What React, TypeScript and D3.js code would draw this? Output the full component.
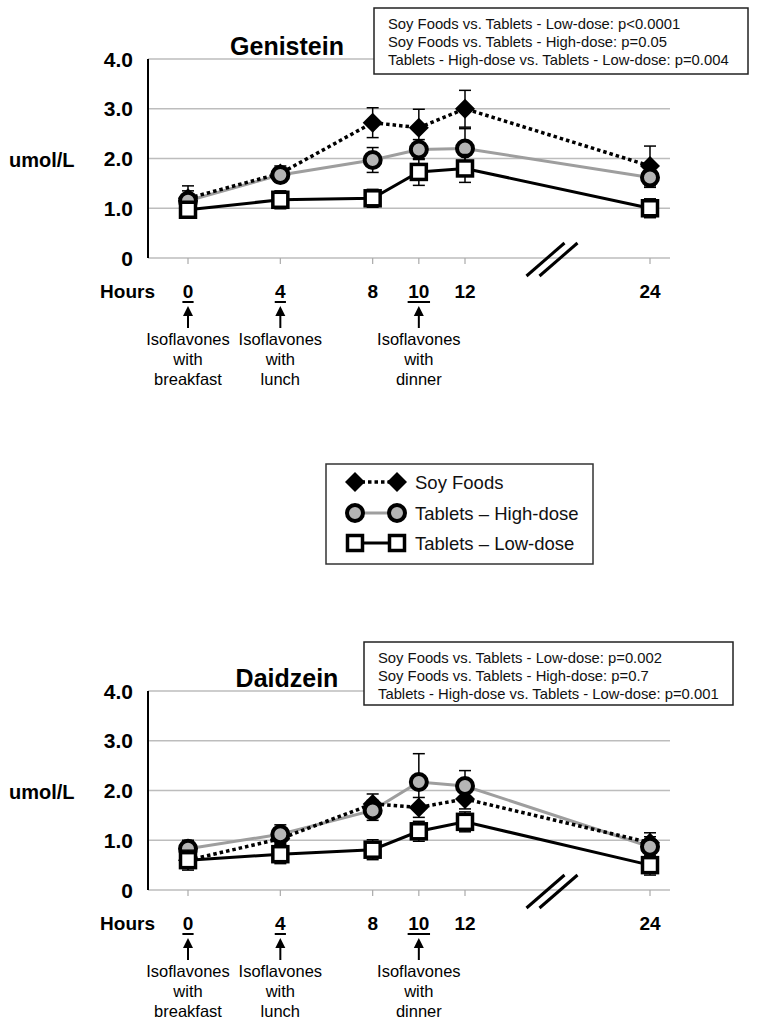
import React from 'react';
import * as d3 from 'd3';

// hours on the x axis
const hours = [0, 4, 8, 10, 12, 24];
const underlinedHours = [0, 4, 10];
const yTicks = [0, 1, 2, 3, 4];

const seriesNames = ['Soy Foods', 'Tablets – High-dose', 'Tablets – Low-dose'];

// Genistein (umol/L)
const genSoy = [1.2, 1.7, 2.72, 2.62, 3.0, 1.85];
const genSoyErr = [0.25, 0.15, 0.3, 0.37, 0.37, 0.4];
const genHigh = [1.15, 1.67, 1.97, 2.18, 2.2, 1.62];
const genHighErr = [0.2, 0.15, 0.25, 0.2, 0.4, 0.2];
const genLow = [0.97, 1.17, 1.2, 1.73, 1.8, 1.0];
const genLowErr = [0.15, 0.18, 0.18, 0.27, 0.28, 0.19];

// Daidzein (umol/L)
const daiSoy = [0.6, 1.03, 1.73, 1.66, 1.83, 0.95];
const daiSoyErr = [0.15, 0.15, 0.2, 0.2, 0.2, 0.2];
const daiHigh = [0.83, 1.12, 1.6, 2.17, 2.09, 0.87];
const daiHighErr = [0.17, 0.19, 0.2, 0.57, 0.31, 0.2];
const daiLow = [0.6, 0.72, 0.81, 1.18, 1.37, 0.5];
const daiLowErr = [0.2, 0.19, 0.2, 0.2, 0.2, 0.2];

const genStats = [
  'Soy Foods vs. Tablets - Low-dose: p<0.0001',
  'Soy Foods vs. Tablets - High-dose: p=0.05',
  'Tablets - High-dose vs. Tablets - Low-dose: p=0.004',
];
const daiStats = [
  'Soy Foods vs. Tablets - Low-dose: p=0.002',
  'Soy Foods vs. Tablets - High-dose: p=0.7',
  'Tablets - High-dose vs. Tablets - Low-dose: p=0.001',
];

const annotations = [
  { hour: 0, lines: ['Isoflavones', 'with', 'breakfast'] },
  { hour: 4, lines: ['Isoflavones', 'with', 'lunch'] },
  { hour: 10, lines: ['Isoflavones', 'with', 'dinner'] },
];

const FONT = 'Liberation Sans, Arial, Helvetica, sans-serif';

// break in the axis between 12 and 24 h
const x = d3.scaleLinear().domain([0, 12, 24]).range([188, 465, 650]);

function Diamond({ cx, cy }: { cx: number; cy: number }) {
  return <path d={`M${cx},${cy - 10}L${cx + 10},${cy}L${cx},${cy + 10}L${cx - 10},${cy}Z`} fill="#000" />;
}
function Ring({ cx, cy }: { cx: number; cy: number }) {
  return <circle cx={cx} cy={cy} r={8} fill="#b5b5b5" stroke="#000" strokeWidth={4} />;
}
function Square({ cx, cy }: { cx: number; cy: number }) {
  return <rect x={cx - 7.5} y={cy - 7.5} width={15} height={15} fill="#fff" stroke="#000" strokeWidth={3.5} />;
}

const markers = [Diamond, Ring, Square];
const lineStyles = [
  { stroke: '#000', width: 3.5, dash: '3.5,3' },
  { stroke: '#9e9e9e', width: 3, dash: undefined },
  { stroke: '#000', width: 3, dash: undefined },
];

function Panel(props: {
  y0: number;
  title: string;
  stats: string[];
  box: { x: number; y: number; w: number; h: number };
  values: number[][];
  errs: number[][];
}) {
  const { y0, title, stats, box, values, errs } = props;
  const y = d3.scaleLinear().domain([0, 4]).range([y0, y0 - 199]);
  const line = d3
    .line<number>()
    .x((_, i) => x(hours[i]))
    .y((d) => y(d));
  const bx = (x(12) + x(24)) / 2 - 12;

  return (
    <g>
      {yTicks.map((t) => (
        <g key={t}>
          <line x1={148} x2={670} y1={y(t)} y2={y(t)} stroke="#bdbdbd" strokeWidth={1.3} />
          <text x={133} y={y(t) + 7.5} textAnchor="end" fontSize={21} fontWeight="bold" fontFamily={FONT}>
            {t === 0 ? '0' : t.toFixed(1)}
          </text>
        </g>
      ))}
      <line x1={148} x2={148} y1={y(4)} y2={y(0)} stroke="#000" strokeWidth={2} />
      {hours.map((h) => (
        <line key={h} x1={x(h)} x2={x(h)} y1={y0} y2={y0 + 6} stroke="#aaa" strokeWidth={1.2} />
      ))}
      <text x={9} y={y(2) + 8} fontSize={20} fontWeight="bold" fontFamily={FONT}>umol/L</text>
      <text x={287} y={y0 - 203} textAnchor="middle" fontSize={25} fontWeight="bold" fontFamily={FONT}>
        {title}
      </text>

      {/* lines: high, low, then soy dotted on top */}
      {[1, 2, 0].map((s) => (
        <path
          key={s}
          d={line(values[s]) || ''}
          fill="none"
          stroke={lineStyles[s].stroke}
          strokeWidth={lineStyles[s].width}
          strokeDasharray={lineStyles[s].dash}
        />
      ))}

      {[0, 1, 2].map((s) => {
        const M = markers[s];
        return (
          <g key={s}>
            {values[s].map((v, i) => {
              const cx = x(hours[i]);
              const e = errs[s][i];
              return (
                <g key={i}>
                  <line x1={cx} x2={cx} y1={y(v - e)} y2={y(v + e)} stroke="#000" strokeWidth={1.5} />
                  <line x1={cx - 6} x2={cx + 6} y1={y(v + e)} y2={y(v + e)} stroke="#000" strokeWidth={1.5} />
                  <line x1={cx - 6} x2={cx + 6} y1={y(v - e)} y2={y(v - e)} stroke="#000" strokeWidth={1.5} />
                </g>
              );
            })}
            {values[s].map((v, i) => (
              <M key={'m' + i} cx={x(hours[i])} cy={y(v)} />
            ))}
          </g>
        );
      })}

      {/* axis break */}
      {[0, 13].map((dx) => (
        <line key={dx} x1={bx - 19 + dx} y1={y0 + 18} x2={bx + 19 + dx} y2={y0 - 15} stroke="#000" strokeWidth={3} />
      ))}

      <text x={155} y={y0 + 40} textAnchor="end" fontSize={19} fontWeight="bold" fontFamily={FONT}>Hours</text>
      {hours.map((h) => (
        <g key={h}>
          <text x={x(h)} y={y0 + 40} textAnchor="middle" fontSize={19} fontWeight="bold" fontFamily={FONT}>{h}</text>
          {underlinedHours.includes(h) && (
            <line
              x1={x(h) - String(h).length * 5.6}
              x2={x(h) + String(h).length * 5.6}
              y1={y0 + 44}
              y2={y0 + 44}
              stroke="#000"
              strokeWidth={2}
            />
          )}
        </g>
      ))}

      {annotations.map((a) => {
        const cx = x(a.hour);
        return (
          <g key={a.hour}>
            <line x1={cx} x2={cx} y1={y0 + 55} y2={y0 + 70} stroke="#000" strokeWidth={2} />
            <path d={`M${cx},${y0 + 48}L${cx + 5},${y0 + 58}L${cx - 5},${y0 + 58}Z`} fill="#000" />
            {a.lines.map((l, k) => (
              <text key={k} x={cx} y={y0 + 87 + k * 20} textAnchor="middle" fontSize={16.5} fontFamily={FONT}>
                {l}
              </text>
            ))}
          </g>
        );
      })}

      <rect x={box.x} y={box.y} width={box.w} height={box.h} fill="#fff" stroke="#222" strokeWidth={1.5} />
      {stats.map((s, k) => (
        <text key={k} x={box.x + 14} y={box.y + 21 + k * 18} fontSize={14.8} fontFamily={FONT} fill="#111">
          {s}
        </text>
      ))}
    </g>
  );
}

function Legend() {
  const rows = [482, 513, 543];
  return (
    <g>
      <rect x={326} y={464} width={267} height={100} fill="#fff" stroke="#333" strokeWidth={1.5} />
      {seriesNames.map((n, i) => {
        const M = markers[i];
        const st = lineStyles[i];
        return (
          <g key={n}>
            <line x1={355} x2={397} y1={rows[i]} y2={rows[i]} stroke={st.stroke} strokeWidth={st.width} strokeDasharray={st.dash} />
            <M cx={355} cy={rows[i]} />
            <M cx={397} cy={rows[i]} />
            <text x={415} y={rows[i] + 6.5} fontSize={18.5} fontFamily={FONT} fill="#111">{n}</text>
          </g>
        );
      })}
    </g>
  );
}

export default function App() {
  return (
    <svg
      width={762}
      height={1029}
      style={{ position: 'absolute', left: 0, top: 0, background: '#fff' }}
    >
      <Panel
        y0={258}
        title="Genistein"
        stats={genStats}
        box={{ x: 374, y: 8, w: 374, h: 66 }}
        values={[genSoy, genHigh, genLow]}
        errs={[genSoyErr, genHighErr, genLowErr]}
      />
      <Legend />
      <Panel
        y0={890}
        title="Daidzein"
        stats={daiStats}
        box={{ x: 364, y: 642, w: 369, h: 63 }}
        values={[daiSoy, daiHigh, daiLow]}
        errs={[daiSoyErr, daiHighErr, daiLowErr]}
      />
    </svg>
  );
}
